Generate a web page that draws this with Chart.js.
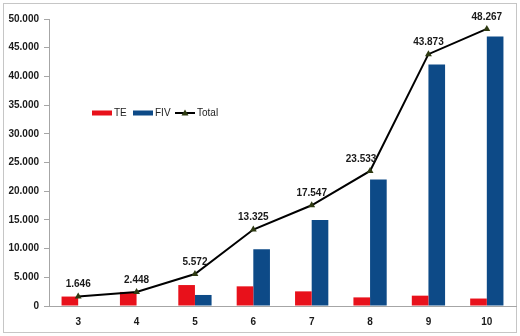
<!DOCTYPE html>
<html lang="de">
<head>
<meta charset="UTF-8">
<title>TE / FIV</title>
<script src="https://cdn.jsdelivr.net/npm/chart.js"></script>
<style>
    html, body { margin: 0; padding: 0; background: #fff; }
    #wrap { position: relative; width: 520px; height: 336px; }
    #frame {
        position: absolute; left: 3px; top: 3px;
        width: 512px; height: 328px;
        border: 1px solid #c6c6c6;
    }
    canvas { position: absolute; left: 0; top: 0; }
</style>
</head>
<body>
<div id="wrap">
    <div id="frame"></div>
    <canvas id="chart" width="520" height="336"></canvas>
</div>
<script>
    const categories = ['3', '4', '5', '6', '7', '8', '9', '10'];
    const teValues = [1646, 2448, 3650, 3425, 2550, 1500, 1800, 1300];
    const fivValues = [0, 0, 1922, 9900, 14997, 22033, 42073, 46967];
    const totalValues = [1646, 2448, 5572, 13325, 17547, 23533, 43873, 48267];

    // 48267 -> "48.267"
    const fmt = v => String(Math.round(v)).replace(/\B(?=(\d{3})+(?!\d))/g, '.');

    const valueLabels = {
        id: 'valueLabels',
        afterDatasetsDraw(chart) {
            const ctx = chart.ctx;
            const meta = chart.getDatasetMeta(2);
            ctx.save();
            ctx.font = 'bold 10px "Liberation Sans", Arial, sans-serif';
            ctx.fillStyle = '#1a1a1a';
            ctx.textAlign = 'center';
            ctx.textBaseline = 'bottom';
            meta.data.forEach((pt, i) => {
                // the steep segment after "8" would run through a centred label
                const dx = i === 5 ? -9 : 0;
                ctx.fillText(fmt(totalValues[i]), pt.x + dx, pt.y - 7);
            });
            ctx.restore();
        }
    };

    // legend sits inside the plot, left side
    const innerLegend = {
        id: 'innerLegend',
        afterDraw(chart) {
            const ctx = chart.ctx;
            const ds = chart.data.datasets;
            const y = 113;
            ctx.save();
            ctx.font = '10px "Liberation Sans", Arial, sans-serif';
            ctx.textBaseline = 'middle';
            ctx.fillStyle = ds[0].backgroundColor;
            ctx.fillRect(92, y - 2.5, 20, 5);
            ctx.fillStyle = '#222';
            ctx.fillText(ds[0].label, 114, y);
            ctx.fillStyle = ds[1].backgroundColor;
            ctx.fillRect(133, y - 2.5, 20, 5);
            ctx.fillStyle = '#222';
            ctx.fillText(ds[1].label, 155, y);
            ctx.strokeStyle = ds[2].borderColor;
            ctx.lineWidth = 2;
            ctx.beginPath();
            ctx.moveTo(175, y);
            ctx.lineTo(195, y);
            ctx.stroke();
            ctx.fillStyle = ds[2].pointBackgroundColor;
            ctx.beginPath();
            ctx.moveTo(185, y - 3.5);
            ctx.lineTo(188.5, y + 2.5);
            ctx.lineTo(181.5, y + 2.5);
            ctx.closePath();
            ctx.fill();
            ctx.fillStyle = '#222';
            ctx.fillText(ds[2].label, 197, y);
            ctx.restore();
        }
    };

    new Chart(document.getElementById('chart'), {
        data: {
            labels: categories,
            datasets: [
                {
                    type: 'bar', label: 'TE', data: teValues,
                    backgroundColor: '#e8111b', order: 2,
                    categoryPercentage: 0.57, barPercentage: 1.0
                },
                {
                    type: 'bar', label: 'FIV', data: fivValues,
                    backgroundColor: '#0d4a87', order: 2,
                    categoryPercentage: 0.57, barPercentage: 1.0
                },
                {
                    type: 'line', label: 'Total', data: totalValues,
                    borderColor: '#000', borderWidth: 2, tension: 0,
                    pointStyle: 'triangle', pointRadius: 4,
                    pointBackgroundColor: '#2e3a12', pointBorderColor: '#2e3a12',
                    pointBorderWidth: 0, order: 1
                }
            ]
        },
        options: {
            responsive: false,
            animation: false,
            layout: { padding: { top: 19, right: 4, left: 0, bottom: 0 } },
            plugins: { legend: { display: false }, tooltip: { enabled: false } },
            scales: {
                x: {
                    grid: { display: true, drawOnChartArea: false, drawTicks: false },
                    border: { color: '#a6a6a6', width: 1 },
                    ticks: {
                        padding: 10, color: '#1a1a1a',
                        font: { family: '"Liberation Sans", Arial, sans-serif', size: 10, weight: 'bold' }
                    },
                    afterFit(scale) { scale.height = 30; }
                },
                y: {
                    min: 0, max: 50000,
                    grid: { display: true, drawOnChartArea: false, tickLength: 5, color: '#a6a6a6' },
                    border: { color: '#a6a6a6', width: 1 },
                    ticks: {
                        stepSize: 5000, padding: 5, color: '#1a1a1a',
                        callback: v => fmt(v),
                        font: { family: '"Liberation Sans", Arial, sans-serif', size: 10, weight: 'bold' }
                    },
                    afterFit(scale) { scale.width = 49; }
                }
            }
        },
        plugins: [valueLabels, innerLegend]
    });
</script>
</body>
</html>
